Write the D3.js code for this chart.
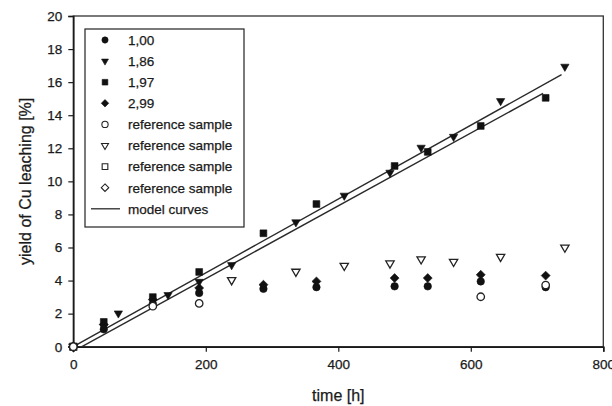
<!DOCTYPE html>
<html><head><meta charset="utf-8">
<script src="https://cdn.jsdelivr.net/npm/d3@7"></script>
<style>
html,body{margin:0;padding:0;background:#fff;}
svg{display:block;font-family:"Liberation Sans",Arial,sans-serif;}
</style></head>
<body><svg id="c" width="612" height="406"></svg>
<script>
// ---- data ----
const xTicks = [0, 200, 400, 600, 800];
const yTicks = [0, 2, 4, 6, 8, 10, 12, 14, 16, 18, 20];
const timesMain = [0, 46, 120, 190, 287, 367, 485, 535, 615, 713];
const timesTri  = [0, 46, 68, 143, 190, 239, 336, 409, 478, 525, 574, 645, 742];
const s100 = [0, 1.05, 2.6, 3.25, 3.5, 3.6, 3.65, 3.65, 3.95, 3.6];
const s186 = [0, 1.2, 2.02, 3.13, 3.93, 4.94, 7.53, 9.14, 10.53, 12.04, 12.7, 14.86, 16.94];
const s197 = [0, 1.5, 3.0, 4.52, 6.86, 8.63, 10.93, 11.78, 13.35, 15.05];
const s299 = [0, 1.35, 2.85, 3.55, 3.75, 3.95, 4.15, 4.15, 4.35, 4.3];
const refCircleT = [0, 120, 190, 615, 713];
const refCircleV = [0, 2.45, 2.62, 3.02, 3.73];
const refTriT = [0, 239, 336, 409, 478, 525, 574, 645, 742];
const refTriV = [0, 4.03, 4.54, 4.9, 5.04, 5.29, 5.14, 5.44, 6.0];
const refSquareT = [0];
const refSquareV = [0];
const refDiamondT = [0];
const refDiamondV = [0];
const modelA_T = [0, 737];
const modelA_V = [0, 16.45];
const modelB_T = [13, 709];
const modelB_V = [0, 15.32];
const legendLabels = ["1,00", "1,86", "1,97", "2,99", "reference sample", "reference sample", "reference sample", "reference sample", "model curves"];

// ---- layout ----
const svg = d3.select("#c");
const L = 73.3, R = 603.3, T = 16, B = 346.7;
const x = d3.scaleLinear().domain([0, 800]).range([L, R]);
const y = d3.scaleLinear().domain([0, 20]).range([B, T]);
const ink = "#1a1a1a";

function styleText(sel) {
  sel.attr("fill", ink).attr("stroke", ink).attr("stroke-width", 0.25);
}

// frame
svg.append("rect").attr("x", L).attr("y", T).attr("width", R - L).attr("height", B - T)
  .attr("fill", "none").attr("stroke", "#333").attr("stroke-width", 1.3);

const xAxis = svg.append("g").attr("transform", `translate(0,${B})`)
  .call(d3.axisBottom(x).tickValues(xTicks).tickSize(5).tickPadding(8).tickFormat(d3.format("d")));
const yAxis = svg.append("g").attr("transform", `translate(${L},0)`)
  .call(d3.axisLeft(y).tickValues(yTicks).tickSize(5).tickPadding(6).tickFormat(d3.format("d")));
[xAxis, yAxis].forEach(g => {
  g.select(".domain").attr("stroke", ink).attr("stroke-width", 1.6);
  g.selectAll(".tick line").attr("stroke", ink).attr("stroke-width", 1.2);
  g.selectAll(".tick text").call(styleText).style("font-size", "13.5px")
    .style("font-family", "'Liberation Sans',Arial,sans-serif");
});

// axis titles
svg.append("text").attr("x", (L + R) / 2).attr("y", 401).attr("text-anchor", "middle")
  .call(styleText).style("font-size", "16px").text("time [h]");
svg.append("text").attr("transform", `translate(31,${(T + B) / 2}) rotate(-90)`)
  .attr("text-anchor", "middle").call(styleText).style("font-size", "16px")
  .text("yield of Cu leaching [%]");

// model lines
const line = d3.line().x(d => x(d[0])).y(d => y(d[1]));
[[modelA_T, modelA_V], [modelB_T, modelB_V]].forEach(([t, v]) => {
  svg.append("path").datum(t.map((d, i) => [d, v[i]])).attr("d", line)
    .attr("fill", "none").attr("stroke", "#2a2a2a").attr("stroke-width", 1.4);
});

// symbols
const symDiamond = {
  draw(ctx, size) {
    const r = Math.sqrt(size / 2);
    ctx.moveTo(0, -r); ctx.lineTo(r, 0); ctx.lineTo(0, r); ctx.lineTo(-r, 0); ctx.closePath();
  }
};
const types = { circle: d3.symbolCircle, tri: d3.symbolTriangle, square: d3.symbolSquare, diamond: symDiamond };
const sizes = { circle: 44, tri: 30, square: 46, diamond: 40 };
function draw(ts, vs, kind, filled) {
  const rot = kind === "tri" ? " rotate(180)" : "";
  svg.append("g").selectAll("path").data(ts.map((t, i) => [t, vs[i]])).join("path")
    .attr("d", d3.symbol().type(types[kind]).size(sizes[kind]))
    .attr("transform", d => `translate(${x(d[0])},${y(d[1])})${rot}`)
    .attr("fill", filled ? "#111" : "#fff")
    .attr("stroke", filled ? "#111" : "#222")
    .attr("stroke-width", filled ? 0.6 : 1.3);
}
draw(refTriT, refTriV, "tri", false);
draw(refSquareT, refSquareV, "square", false);
draw(refDiamondT, refDiamondV, "diamond", false);
draw(timesMain, s100, "circle", true);
draw(timesMain, s299, "diamond", true);
draw(timesMain, s197, "square", true);
draw(timesTri, s186, "tri", true);
draw(refCircleT, refCircleV, "circle", false);

// legend
const lg = svg.append("g");
lg.append("rect").attr("x", 85).attr("y", 29).attr("width", 159).attr("height", 198)
  .attr("fill", "#fff").attr("stroke", "#222").attr("stroke-width", 1.2);
const legKinds = [["circle", true], ["tri", true], ["square", true], ["diamond", true],
  ["circle", false], ["tri", false], ["square", false], ["diamond", false], ["line", null]];
legKinds.forEach(([k, f], i) => {
  const cy = 40 + i * 21.1;
  if (k === "line") {
    lg.append("line").attr("x1", 91).attr("x2", 120).attr("y1", cy).attr("y2", cy)
      .attr("stroke", "#2a2a2a").attr("stroke-width", 1.3);
  } else {
    lg.append("path").attr("d", d3.symbol().type(types[k]).size(sizes[k] * 0.7))
      .attr("transform", `translate(105,${cy})${k === "tri" ? " rotate(180)" : ""}`)
      .attr("fill", f ? "#111" : "#fff").attr("stroke", f ? "#111" : "#222")
      .attr("stroke-width", f ? 0.6 : 1.1);
  }
  lg.append("text").attr("x", 128).attr("y", cy + 4.8).call(styleText)
    .style("font-size", "13.5px").text(legendLabels[i]);
});
</script></body></html>
